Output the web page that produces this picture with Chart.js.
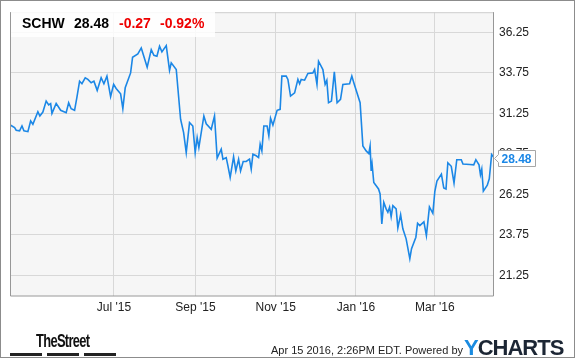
<!DOCTYPE html>
<html>
<head>
<meta charset="utf-8">
<script src="https://cdn.jsdelivr.net/npm/chart.js@4.4.1/dist/chart.umd.min.js"></script>
<style>
  body { margin: 0; background: #fff; font-family: Arial, "Liberation Sans", sans-serif; }
  #wrap { position: relative; width: 575px; height: 358px; overflow: hidden; }
  #frame { position: absolute; left: 0; top: 0; width: 575px; height: 358px; box-sizing: border-box; border: 1px solid #8c8c8c; pointer-events: none; }
  .abs { position: absolute; white-space: nowrap; }
  #head { left: 11px; top: 11px; width: 204px; height: 26px; background: rgba(255,255,255,0.85); }
  .hd { font-size: 14px; font-weight: bold; line-height: 14px; top: 16px; color: #000; }
  .red { color: #ee0000; }
  #stamp { left: 271px; top: 345px; font-size: 11px; line-height: 11px; color: #222; }
  #street { left: 36px; top: 331px; font-size: 19px; font-weight: bold; line-height: 19px; color: #111;
            letter-spacing: -1px; transform: scaleX(0.68); transform-origin: left top; }
  .bar { position: absolute; top: 353px; height: 3px; background: #222; }
  #ych { left: 464px; top: 337px; font-size: 22px; font-weight: bold; line-height: 22px; letter-spacing: -1px; color: #1c2634; }
  #ych span { color: #1a8be0; }
</style>
</head>
<body>
<div id="wrap">
  <canvas id="myChart" width="575" height="358"></canvas>
  <div class="abs" id="head"></div>
  <div class="abs hd" style="left:22px">SCHW</div>
  <div class="abs hd" style="left:74px">28.48</div>
  <div class="abs hd red" style="left:119px">-0.27</div>
  <div class="abs hd red" style="left:160px">-0.92%</div>
  <div class="abs" id="street">TheStreet</div>
  <div class="bar" style="left:10px;width:32px"></div>
  <div class="bar" style="left:47px;width:32px"></div>
  <div class="bar" style="left:84px;width:32px"></div>
  <div class="abs" id="stamp">Apr 15 2016, 2:26PM EDT. Powered by</div>
  <div class="abs" id="ych"><span>Y</span>CHARTS</div>
  <div id="frame"></div>
</div>
<script>
// days counted from Jan 1 2015
var dayNum = [102.5, 105.5, 106.7, 109.3, 111.1, 112.6, 115.6, 117.7, 119.4, 123.2,
  124.7, 127.0, 129.5, 131.4, 132.9, 133.9, 137.1, 140.5, 144.7, 146.6,
  148.5, 151.1, 152.9, 154.9, 156.7, 159.2, 161.2, 163.7, 165.8, 168.3,
  171.3, 173.4, 175.7, 178.5, 180.8, 182.7, 186.1, 187.8, 189.6, 193.7,
  195.2, 199.2, 201.8, 206.3, 209.4, 211.4, 213.7, 215.7, 217.5, 220.8,
  223.3, 224.6, 228.4, 231.7, 234.0, 236.0, 238.5, 241.0, 242.8, 244.3,
  245.6, 249.4, 251.2, 255.0, 257.5, 259.5, 262.6, 263.9, 266.4, 267.7,
  269.4, 272.0, 273.7, 275.8, 277.3, 279.3, 281.6, 284.1, 285.4, 286.7,
  289.2, 291.0, 292.2, 293.5, 295.0, 297.5, 298.8, 300.1, 301.9, 305.1,
  307.4, 308.7, 312.0, 313.3, 315.3, 318.4, 320.9, 322.2, 323.4, 326.0,
  328.5, 332.3, 333.6, 335.4, 336.6, 339.9, 341.6, 342.9, 344.2, 346.4,
  348.6, 350.7, 353.3, 355.1, 360.2, 361.9, 363.4, 368.2, 370.3, 372.8,
  374.8, 375.8, 376.6, 377.3, 378.6, 382.2, 383.4, 384.7, 386.2, 388.0,
  389.3, 390.6, 391.8, 393.1, 395.6, 396.9, 399.0, 400.7, 403.2, 406.0,
  407.3, 410.6, 411.9, 413.6, 416.7, 418.6, 420.9, 423.5, 425.0, 426.6,
  430.0, 431.8, 433.5, 434.9, 437.5, 439.6, 441.7, 445.1, 446.4, 451.6,
  454.6, 456.2, 458.6, 459.7, 460.7, 461.9, 464.9, 466.4, 468.2, 469.6,
  470.0]

var price = [30.52, 30.37, 30.21, 30.17, 30.47, 30.17, 30.12, 30.78, 30.58, 31.35,
  31.09, 31.33, 32.01, 31.77, 31.85, 31.25, 31.87, 31.44, 31.29, 31.91,
  31.54, 31.44, 32.26, 33.24, 33.08, 33.45, 33.35, 33.14, 33.24, 32.67,
  33.45, 33.08, 33.55, 32.28, 33.04, 32.79, 32.46, 31.54, 32.83, 33.75,
  34.72, 34.92, 35.29, 34.10, 35.19, 34.84, 34.78, 35.40, 35.05, 35.44,
  33.90, 34.37, 33.96, 30.89, 30.06, 28.83, 30.68, 30.47, 28.83, 29.75,
  29.14, 31.09, 30.61, 30.27, 31.09, 28.49, 29.04, 28.42, 28.52, 28.01,
  27.29, 28.57, 27.70, 28.42, 27.70, 28.28, 28.28, 28.42, 27.81, 28.73,
  28.63, 28.52, 29.35, 28.93, 30.47, 30.47, 29.86, 30.95, 30.53, 31.44,
  31.50, 33.55, 33.55, 33.35, 32.32, 32.52, 33.35, 33.08, 33.35, 33.30,
  33.72, 33.75, 33.96, 33.04, 34.47, 33.96, 33.04, 33.29, 31.91, 32.01,
  33.81, 31.91, 32.12, 33.04, 33.08, 33.55, 33.14, 31.91, 29.24, 28.93,
  28.77, 29.24, 27.70, 28.12, 26.98, 26.58, 26.27, 24.42, 25.75, 25.35,
  25.14, 25.45, 24.87, 25.55, 25.35, 24.18, 24.99, 24.12, 23.50, 22.27,
  22.89, 23.60, 24.46, 24.32, 24.55, 23.70, 25.47, 25.08, 26.42, 27.07,
  27.50, 26.64, 26.58, 28.20, 27.98, 26.95, 28.39, 28.39, 28.12, 28.09,
  28.07, 28.39, 28.07, 27.46, 27.81, 26.45, 26.81, 27.21, 28.71, 28.57,
  28.48]

var monthTicks = [181, 243, 304, 365, 425]
var monthLabels = ["Jul '15", "Sep '15", "Nov '15", "Jan '16", "Mar '16"]
var priceTicks = [21.25, 23.75, 26.25, 28.75, 31.25, 33.75, 36.25]

var lineColor = '#1b87e6'

Chart.defaults.font.family = 'Arial, "Liberation Sans", sans-serif'

// plot background and frame
var areaPlugin = {
  id: 'area',
  beforeDraw: function (chart) {
    var a = chart.chartArea, ctx = chart.ctx
    ctx.save()
    ctx.fillStyle = '#f6f6f6'
    ctx.fillRect(a.left, a.top, a.right - a.left, a.bottom - a.top)
    ctx.restore()
  },
  afterDatasetsDraw: function (chart) {
    var a = chart.chartArea, ctx = chart.ctx
    ctx.save()
    ctx.lineWidth = 1
    ctx.strokeStyle = '#cfcfcf'
    ctx.beginPath()
    ctx.moveTo(a.left, a.top + 0.5); ctx.lineTo(a.right, a.top + 0.5)
    ctx.stroke()
    ctx.strokeStyle = '#979797'
    ctx.beginPath()
    ctx.moveTo(a.left + 0.5, a.top); ctx.lineTo(a.left + 0.5, a.bottom + 0.5)
    ctx.lineTo(a.right - 0.5, a.bottom + 0.5); ctx.lineTo(a.right - 0.5, a.top)
    ctx.stroke()
    ctx.restore()
  }
}

// last price flag on the right axis
var flagPlugin = {
  id: 'flag',
  afterDraw: function (chart) {
    var ctx = chart.ctx
    var last = price[price.length - 1]
    var y = Math.round(chart.scales.y.getPixelForValue(last)) + 0.5
    var x0 = chart.chartArea.right + 0.5
    var bx = x0 + 4, bw = 37, bh = 16
    ctx.save()
    ctx.fillStyle = '#fff'
    ctx.strokeStyle = '#a6a6a6'
    ctx.lineWidth = 1
    ctx.beginPath()
    ctx.moveTo(x0, y)
    ctx.lineTo(bx, y - 4)
    ctx.lineTo(bx, y - bh / 2)
    ctx.lineTo(bx + bw, y - bh / 2)
    ctx.lineTo(bx + bw, y + bh / 2)
    ctx.lineTo(bx, y + bh / 2)
    ctx.lineTo(bx, y + 4)
    ctx.closePath()
    ctx.fill()
    ctx.stroke()
    ctx.fillStyle = lineColor
    ctx.font = 'bold 12px Arial, "Liberation Sans", sans-serif'
    ctx.textBaseline = 'middle'
    ctx.fillText(last.toFixed(2), bx + 3, y + 1)
    ctx.restore()
  }
}

var ctx = document.getElementById('myChart').getContext('2d')
var chart = new Chart(ctx, {
  type: 'line',
  data: {
    datasets: [{
      data: dayNum.map(function (d, i) { return { x: d, y: price[i] } }),
      borderColor: lineColor,
      borderWidth: 1.6,
      pointRadius: 0,
      tension: 0,
      fill: false
    }]
  },
  options: {
    responsive: false,
    animation: false,
    devicePixelRatio: 1,
    layout: { padding: { left: 10, top: 10, right: 0, bottom: 0 } },
    plugins: { legend: { display: false }, tooltip: { enabled: false } },
    scales: {
      x: {
        type: 'linear',
        min: 102,
        max: 470,
        grid: { color: '#d8d8d8', drawTicks: false },
        border: { display: false },
        afterBuildTicks: function (s) { s.ticks = monthTicks.map(function (v) { return { value: v } }) },
        afterFit: function (s) { s.height = 62.5 },
        ticks: {
          padding: 5,
          color: '#222',
          font: { size: 12 },
          maxRotation: 0,
          callback: function (v) { return monthLabels[monthTicks.indexOf(v)] }
        }
      },
      y: {
        position: 'right',
        min: 20,
        max: 37.5,
        grid: { color: '#d8d8d8', drawTicks: false },
        border: { display: false },
        afterBuildTicks: function (s) { s.ticks = priceTicks.map(function (v) { return { value: v } }) },
        afterFit: function (s) { s.width = 81 },
        ticks: {
          padding: 5,
          color: '#222',
          font: { size: 12 },
          callback: function (v) { return v.toFixed(2) }
        }
      }
    }
  },
  plugins: [areaPlugin, flagPlugin]
})
</script>
</body>
</html>
